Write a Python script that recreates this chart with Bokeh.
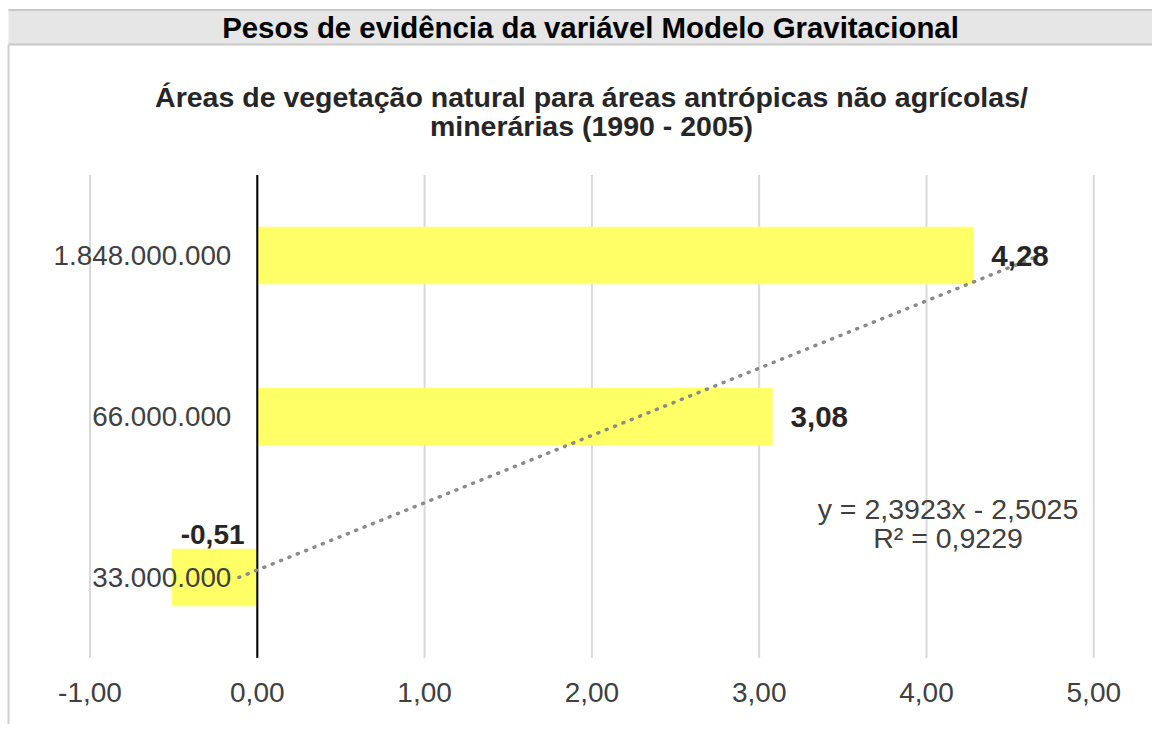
import numpy as np
from bokeh.plotting import figure
from bokeh.models import Range1d
from bokeh.core.properties import value
from bokeh.embed import file_html
from bokeh.resources import INLINE

# ---------------- data ----------------
header_text = "Pesos de evidência da variável Modelo Gravitacional"
title_lines = ["Áreas de vegetação natural para áreas antrópicas não agrícolas/",
               "minerárias (1990 - 2005)"]
categories = ["33.000.000", "66.000.000", "1.848.000.000"]
weights = [-0.51, 3.08, 4.28]
weight_labels = ["-0,51", "3,08", "4,28"]
x_ticks = [-1, 0, 1, 2, 3, 4, 5]
x_tick_labels = ["-1,00", "0,00", "1,00", "2,00", "3,00", "4,00", "5,00"]
trend_slope = 2.3923
trend_intercept = -2.5025
trend_r2 = 0.9229

# ---------------- layout ----------------
W, H = 1152, 724
ZERO_PX = 256.8        # pixel x of value 0
PX_PER_UNIT = 167.3    # pixels per x unit
MID_PY = 416.0         # pixel y (from top) of the middle category
PX_PER_CAT = 161.0
BAR_H = 0.357
FONT = value("Liberation Sans")
TXT = "#404040"

n = len(categories)
idx = np.arange(1, n + 1)
mid = (n + 1) / 2


def x_px(fx):
    return (fx - ZERO_PX) / PX_PER_UNIT


def y_px(fy):
    return mid + (MID_PY - fy) / PX_PER_CAT


p = figure(width=W, height=H,
           x_range=Range1d(x_px(0), x_px(W)), y_range=Range1d(y_px(H), y_px(0)),
           output_backend="svg", toolbar_location=None,
           x_axis_location=None, y_axis_location=None,
           min_border=0, min_border_left=0, min_border_right=0,
           min_border_top=0, min_border_bottom=0,
           outline_line_color=None, background_fill_color="white",
           border_fill_color="white")
for g in p.grid:
    g.visible = False

# header band
p.quad(left=x_px(8), right=x_px(W), top=y_px(9), bottom=y_px(44),
       fill_color="#e6e6e6", line_color=None)
p.segment(x0=[x_px(8), x_px(8)], x1=[x_px(W), x_px(W)],
          y0=[y_px(9.5), y_px(44)], y1=[y_px(9.5), y_px(44)],
          line_color="#c8c8c8", line_width=2)
p.segment(x0=[x_px(8)], x1=[x_px(8)], y0=[y_px(44)], y1=[y_px(H)],
          line_color="#d0d0d0", line_width=2)
p.text(x=[x_px(590)], y=[y_px(27)], text=[header_text], text_font=FONT,
       text_font_style="bold", text_font_size="29.4px", text_color="black",
       text_align="center", text_baseline="middle")

# chart title
p.text(x=[x_px(591)] * 2, y=[y_px(96), y_px(125)], text=title_lines, text_font=FONT,
       text_font_style="bold", text_font_size="28.5px", text_color="#262626",
       text_align="center", text_baseline="alphabetic")

# vertical gridlines
lo, hi = 0.5, n + 0.5
p.segment(x0=x_ticks, x1=x_ticks, y0=[lo] * len(x_ticks), y1=[hi] * len(x_ticks),
          line_color="#d9d9d9", line_width=2)

# bars
p.hbar(y=idx, left=0, right=weights, height=BAR_H, fill_color="#FFFF66", line_color=None)

# zero line
p.segment(x0=[0], x1=[0], y0=[lo], y1=[hi], line_color="black", line_width=2)

# trendline
tx = np.array([1, n], dtype=float)
p.line(x=trend_slope * tx + trend_intercept, y=tx, line_color="#8a8a8a", line_width=3.5,
       line_dash="1 8", line_cap="round")

# category labels
p.text(x=[0] * n, y=idx, text=categories, x_offset=-26, text_font=FONT,
       text_font_size="27.8px", text_color=TXT, text_align="right", text_baseline="middle")

# data labels
pos = [i for i, v in enumerate(weights) if v >= 0]
neg = [i for i, v in enumerate(weights) if v < 0]
p.text(x=[weights[i] for i in pos], y=[idx[i] for i in pos], text=[weight_labels[i] for i in pos],
       x_offset=18, text_font=FONT, text_font_style="bold", text_font_size="29.5px",
       text_color="#262626", text_align="left", text_baseline="middle")
p.text(x=[weights[i] / 2 for i in neg], y=[idx[i] + BAR_H / 2 for i in neg],
       text=[weight_labels[i] for i in neg], x_offset=-2, y_offset=-14, text_font=FONT,
       text_font_style="bold", text_font_size="28px", text_color="#262626",
       text_align="center", text_baseline="alphabetic")

# x tick labels
p.text(x=x_ticks, y=[lo] * len(x_ticks), text=x_tick_labels, y_offset=34, text_font=FONT,
       text_font_size="28px", text_color=TXT, text_align="center", text_baseline="middle")

# trendline equation
eq1 = ("y = %.4fx - %.4f" % (trend_slope, abs(trend_intercept))).replace(".", ",")
eq2 = ("R² = %.4f" % trend_r2).replace(".", ",")
p.text(x=[x_px(947.5)] * 2, y=[y_px(508.5), y_px(537)], text=[eq1, eq2], text_font=FONT,
       text_font_size="28.5px", text_color=TXT, text_align="center", text_baseline="middle")

open("out.html", "w").write(file_html(p, INLINE))
